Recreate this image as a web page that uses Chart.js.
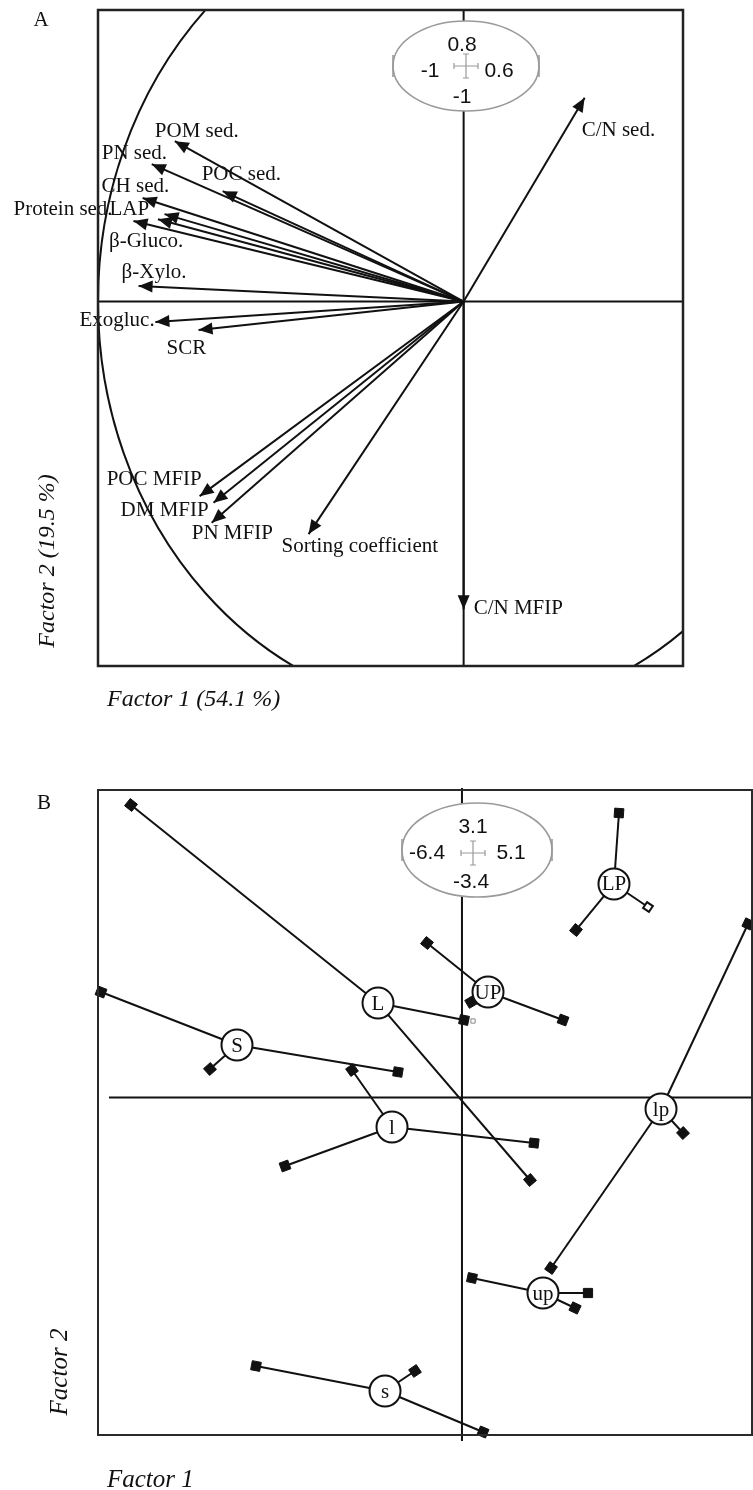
<!DOCTYPE html>
<html><head><meta charset="utf-8">
<script src="https://cdn.jsdelivr.net/npm/chart.js@4.4.1/dist/chart.umd.min.js"></script>
<style>
html,body{margin:0;padding:0;background:#fff;}
#wrap{position:relative;width:753px;height:1490px;background:#fff;}
canvas{position:absolute;left:0;}
#cA{top:0}
#cB{top:745px}
</style></head><body>
<div id="wrap">
<canvas id="cA" width="753" height="745"></canvas>
<canvas id="cB" width="753" height="745"></canvas>
</div>
<script>
// ---------------- Panel A : variable loadings ----------------
const varNames = ['POM sed.','PN sed.','POC sed.','CH sed.','LAP','β-Gluco.','Protein sed.','β-Xylo.','Exogluc.','SCR','POC MFIP','DM MFIP','PN MFIP','Sorting coefficient','C/N MFIP','C/N sed.'];
const factor1Loadings = [-0.790,-0.853,-0.659,-0.878,-0.818,-0.836,-0.903,-0.889,-0.843,-0.725,-0.722,-0.684,-0.689,-0.424,0.000,0.331];
const factor2Loadings = [ 0.440, 0.377, 0.303, 0.284, 0.240, 0.226, 0.221, 0.043,-0.056,-0.078,-0.534,-0.552,-0.607,-0.638,-0.844,0.559];
const rangeAx = [-1, 0.6];
const rangeAy = [-1, 0.8];
const corrCircleRadius = [1, 1.13]; // drawn radii (x units, y units) as in the figure
const axisTitlesA = ['Factor 1 (54.1 %)', 'Factor 2 (19.5 %)'];

// label offsets in pixels from arrow tip (style only)
const labelOffsetsA = [[-20,-10],[-50,-11],[-21,-17],[-41,-12],[-55,-5],[-49,22],[-120,-12],[-17,-13],[-76,-1],[-32,19],[-93,-17],[-93,8],[-20,11],[-27,12],[10,-1],[-3,33]];

// ---------------- Panel B : group centroids and samples ----------------
const groupNames = ['L','S','l','UP','LP','lp','up','s'];
const groupF1 = [-1.476,-3.956,-1.230, 0.458, 2.673, 3.500, 1.425,-1.353];
const groupF2 = [ 0.953, 0.530,-0.296, 1.064, 2.153,-0.115,-1.969,-2.957];
const sampleF1 = [[-5.820, 1.196, 0.036],[-6.347,-4.431,-1.125],[-1.934,-3.112, 1.267],[-0.615, 1.777, 0.159],[ 2.761, 2.005, 3.271],[ 5.030, 3.887, 1.566],[ 0.176, 2.216, 1.988],[-3.622,-0.826, 0.370]];
const sampleF2 = [[ 2.949,-0.830, 0.782],[ 1.064, 0.288, 0.258],[ 0.278,-0.689,-0.458],[ 1.558, 0.782, 0.963],[ 2.868, 1.689, 1.921],[ 1.750,-0.357,-1.717],[-1.818,-1.969,-2.120],[-2.705,-2.755,-3.370]];
const sampleOpen = [[0,0,0],[0,0,0],[0,0,0],[0,0,0],[0,0,1],[0,0,0],[0,0,0],[0,0,0]];
const extraF1 = [0.194];
const extraF2 = [0.772];
const rangeBx = [-6.4, 5.1];
const rangeBy = [-3.4, 3.1];
const axisTitlesB = ['Factor 1', 'Factor 2'];

const SERIF = '"Liberation Serif","Times New Roman",serif';
const SANS = '"Liberation Sans",Arial,sans-serif';
const INK = '#111';

function arrowHead(ctx, x0, y0, x1, y1, len, half) {
  const a = Math.atan2(y1 - y0, x1 - x0);
  const c = Math.cos(a), s = Math.sin(a);
  ctx.beginPath();
  ctx.moveTo(x1, y1);
  ctx.lineTo(x1 - len * c + half * s, y1 - len * s - half * c);
  ctx.lineTo(x1 - len * c - half * s, y1 - len * s + half * c);
  ctx.closePath();
  ctx.fill();
}

function scaleLegend(ctx, cx, cy, rx, ry, cross, texts) {
  ctx.save();
  ctx.beginPath();
  ctx.ellipse(cx, cy, rx, ry, 0, 0, Math.PI * 2);
  ctx.fillStyle = '#fff';
  ctx.fill();
  ctx.strokeStyle = '#9a9a9a';
  ctx.lineWidth = 1.6;
  ctx.stroke();
  ctx.beginPath();
  ctx.moveTo(cx - rx, cy - 11); ctx.lineTo(cx - rx, cy + 11);
  ctx.moveTo(cx + rx, cy - 11); ctx.lineTo(cx + rx, cy + 11);
  ctx.stroke();
  const [qx, qy, h] = cross;
  ctx.lineWidth = 1.2;
  ctx.beginPath();
  ctx.moveTo(qx - h, qy); ctx.lineTo(qx + h, qy);
  ctx.moveTo(qx, qy - h); ctx.lineTo(qx, qy + h);
  ctx.moveTo(qx - h, qy - 3); ctx.lineTo(qx - h, qy + 3);
  ctx.moveTo(qx + h, qy - 3); ctx.lineTo(qx + h, qy + 3);
  ctx.moveTo(qx - 3, qy - h); ctx.lineTo(qx + 3, qy - h);
  ctx.moveTo(qx - 3, qy + h); ctx.lineTo(qx + 3, qy + h);
  ctx.stroke();
  ctx.fillStyle = '#111';
  ctx.font = '21px ' + SANS;
  ctx.textAlign = 'center';
  ctx.textBaseline = 'middle';
  texts.forEach(t => ctx.fillText(t[0], t[1], t[2]));
  ctx.restore();
}

function titles(ctx, letter, lx, ly, t1, t1x, t1y, t2, t2x, t2y, size) {
  ctx.save();
  ctx.fillStyle = '#111';
  ctx.font = '21px ' + SERIF;
  ctx.textAlign = 'center';
  ctx.textBaseline = 'middle';
  ctx.fillText(letter, lx, ly);
  ctx.font = 'italic ' + size + 'px ' + SERIF;
  ctx.textAlign = 'left';
  ctx.fillText(t1, t1x, t1y);
  ctx.translate(t2x, t2y);
  ctx.rotate(-Math.PI / 2);
  ctx.textAlign = 'center';
  ctx.fillText(t2, 0, 0);
  ctx.restore();
}

// ================= Chart A =================
const arrowSets = varNames.map((n, i) => ({
  type: 'line',
  label: n,
  data: [{x: 0, y: 0}, {x: factor1Loadings[i], y: factor2Loadings[i]}],
  borderColor: INK,
  borderWidth: 2,
  pointRadius: 0,
  fill: false,
  tension: 0,
  clip: false
}));

const pluginA = {
  id: 'panelA',
  beforeDatasetsDraw(chart) {
    const ctx = chart.ctx, a = chart.chartArea, xs = chart.scales.x, ys = chart.scales.y;
    const ox = xs.getPixelForValue(0), oy = ys.getPixelForValue(0);
    ctx.save();
    ctx.strokeStyle = INK;
    ctx.lineWidth = 2;
    ctx.beginPath();
    ctx.moveTo(a.left, oy); ctx.lineTo(a.right, oy);
    ctx.moveTo(ox, a.top); ctx.lineTo(ox, a.bottom);
    ctx.stroke();
    ctx.beginPath();
    ctx.rect(a.left, a.top, a.right - a.left, a.bottom - a.top);
    ctx.clip();
    const rx = xs.getPixelForValue(corrCircleRadius[0]) - ox;
    const ry = oy - ys.getPixelForValue(corrCircleRadius[1]);
    ctx.beginPath();
    ctx.ellipse(ox, oy, rx, ry, 0, 0, Math.PI * 2);
    ctx.lineWidth = 2;
    ctx.stroke();
    ctx.restore();
  },
  afterDatasetsDraw(chart) {
    const ctx = chart.ctx, a = chart.chartArea;
    ctx.save();
    ctx.fillStyle = INK;
    chart.data.datasets.forEach((ds, i) => {
      const m = chart.getDatasetMeta(i).data;
      arrowHead(ctx, m[0].x, m[0].y, m[1].x, m[1].y, 14, 6);
    });
    ctx.font = '21px ' + SERIF;
    ctx.textAlign = 'left';
    ctx.textBaseline = 'middle';
    chart.data.datasets.forEach((ds, i) => {
      const p = chart.getDatasetMeta(i).data[1];
      const off = labelOffsetsA[i];
      ctx.fillText(ds.label, p.x + off[0], p.y + off[1]);
    });
    ctx.strokeStyle = '#222';
    ctx.lineWidth = 2.5;
    ctx.strokeRect(a.left, a.top, a.right - a.left, a.bottom - a.top);
    ctx.restore();
    scaleLegend(ctx, 466, 66, 73, 45, [466, 66, 12], [
      [String(rangeAy[1]), 462, 45], [String(rangeAx[0]), 430, 71],
      [String(rangeAx[1]), 499, 71], [String(rangeAy[0]), 462, 97]]);
    titles(ctx, 'A', 41, 20, axisTitlesA[0], 107, 700, axisTitlesA[1], 48, 561, 24);
  }
};

new Chart(document.getElementById('cA'), {
  type: 'line',
  data: {datasets: arrowSets},
  options: {
    responsive: false, animation: false, devicePixelRatio: 1,
    layout: {autoPadding: false, padding: {left: 98, top: 10, right: 70, bottom: 79}},
    plugins: {legend: {display: false}, tooltip: {enabled: false}, title: {display: false}},
    events: [],
    scales: {
      x: {type: 'linear', min: rangeAx[0], max: rangeAx[1], display: false},
      y: {type: 'linear', min: rangeAy[0], max: rangeAy[1], display: false}
    }
  },
  plugins: [pluginA]
});

// ================= Chart B =================
function spokeAngle(c) {
  const ch = c.chart, xs = ch.scales.x, ys = ch.scales.y, d = c.dataset.data;
  if (!xs || !ys || !d || d.length < 2) return 0;
  const dx = xs.getPixelForValue(d[1].x) - xs.getPixelForValue(d[0].x);
  const dy = ys.getPixelForValue(d[1].y) - ys.getPixelForValue(d[0].y);
  return Math.atan2(dy, dx) * 180 / Math.PI;
}

const spokeSets = [];
groupNames.forEach((g, gi) => {
  sampleF1[gi].forEach((sx, si) => {
    const open = sampleOpen[gi][si] === 1;
    spokeSets.push({
      type: 'line',
      label: g + '-' + (si + 1),
      data: [{x: groupF1[gi], y: groupF2[gi]}, {x: sx, y: sampleF2[gi][si]}],
      borderColor: INK,
      borderWidth: 2,
      pointRadius: [0, open ? 5 : 6.5],
      pointStyle: 'rect',
      pointRotation: spokeAngle,
      pointBackgroundColor: open ? '#fff' : INK,
      pointBorderColor: INK,
      pointBorderWidth: open ? 2 : 1,
      fill: false, tension: 0, clip: false, order: 5
    });
  });
});

const extraSet = {
  type: 'scatter', label: 'extra',
  data: extraF1.map((x, i) => ({x: x, y: extraF2[i]})),
  pointStyle: 'rect', pointRadius: 3, pointBackgroundColor: '#fff',
  pointBorderColor: '#888', pointBorderWidth: 1, showLine: false, clip: false, order: 4
};

const centroidSet = {
  type: 'scatter', label: 'groups',
  data: groupF1.map((x, i) => ({x: x, y: groupF2[i]})),
  pointStyle: 'circle', pointRadius: 15.5, pointHoverRadius: 15.5,
  pointBackgroundColor: '#fff', pointBorderColor: INK, pointBorderWidth: 2,
  showLine: false, clip: false, order: -1
};

const pluginB = {
  id: 'panelB',
  beforeDatasetsDraw(chart) {
    const ctx = chart.ctx, a = chart.chartArea, xs = chart.scales.x, ys = chart.scales.y;
    const ox = xs.getPixelForValue(0), oy = ys.getPixelForValue(0);
    ctx.save();
    ctx.strokeStyle = INK;
    ctx.lineWidth = 2;
    ctx.beginPath();
    ctx.moveTo(a.left + 11, oy); ctx.lineTo(a.right, oy);
    ctx.moveTo(ox, a.top - 2); ctx.lineTo(ox, a.bottom + 6);
    ctx.stroke();
    ctx.restore();
  },
  afterDatasetsDraw(chart) {
    const ctx = chart.ctx, a = chart.chartArea;
    const idx = chart.data.datasets.indexOf(centroidSet);
    const pts = chart.getDatasetMeta(idx).data;
    ctx.save();
    ctx.fillStyle = INK;
    ctx.font = '21px ' + SERIF;
    ctx.textAlign = 'center';
    ctx.textBaseline = 'middle';
    pts.forEach((p, i) => ctx.fillText(groupNames[i], p.x, p.y + 1));
    ctx.strokeStyle = '#2a2a2a';
    ctx.lineWidth = 2;
    ctx.strokeRect(a.left, a.top, a.right - a.left, a.bottom - a.top);
    ctx.restore();
    scaleLegend(ctx, 477, 105, 75, 47, [473, 108, 12], [
      [String(rangeBy[1]), 473, 82], [String(rangeBx[0]), 427, 108],
      [String(rangeBx[1]), 511, 108], [String(rangeBy[0]), 471, 137]]);
    titles(ctx, 'B', 44, 58, axisTitlesB[0], 107, 735, axisTitlesB[1], 60, 627, 25);
  }
};

new Chart(document.getElementById('cB'), {
  type: 'line',
  data: {datasets: [...spokeSets, extraSet, centroidSet]},
  options: {
    responsive: false, animation: false, devicePixelRatio: 1,
    layout: {autoPadding: false, padding: {left: 98, top: 45, right: 1, bottom: 55}},
    plugins: {legend: {display: false}, tooltip: {enabled: false}, title: {display: false}},
    events: [],
    scales: {
      x: {type: 'linear', min: rangeBx[0], max: rangeBx[1], display: false},
      y: {type: 'linear', min: rangeBy[0], max: rangeBy[1], display: false}
    }
  },
  plugins: [pluginB]
});
</script>
</body></html>
